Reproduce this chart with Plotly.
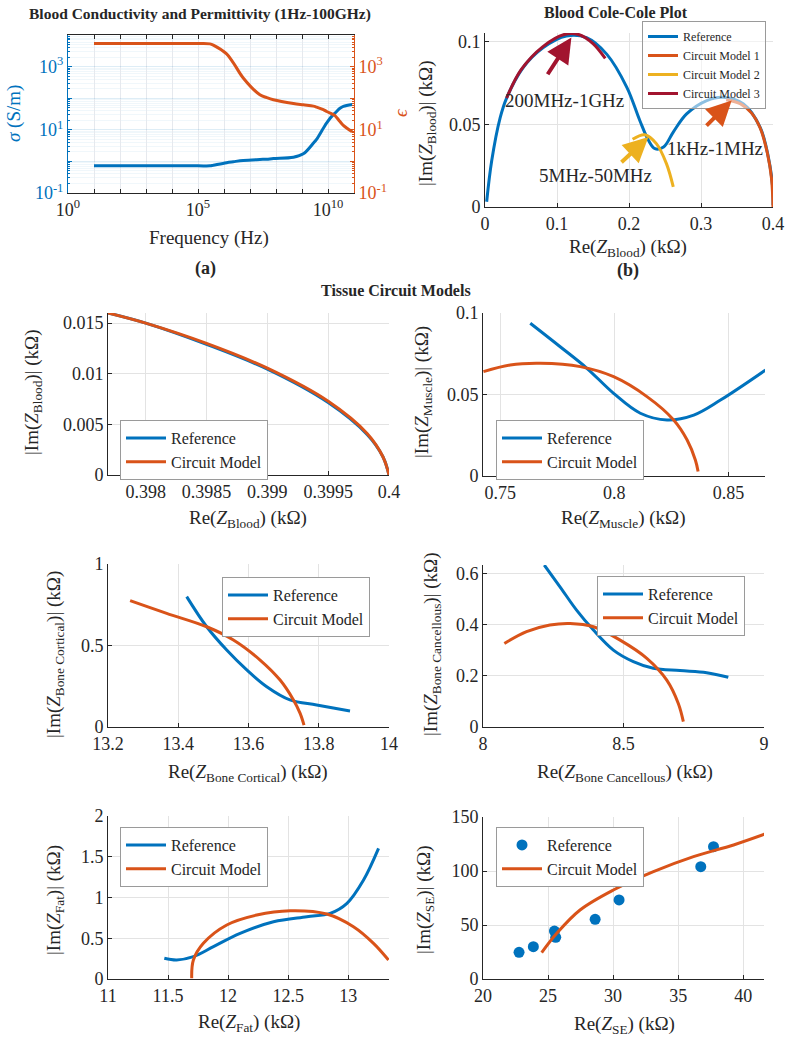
import numpy as np
import plotly.graph_objects as go

W, H = 787, 1043
FONT = "Liberation Serif, Times New Roman, serif"
BLUE = "#0072BD"
ORANGE = "#D95319"
YELLOW = "#EDB120"
DRED = "#A2142F"
TXT = "#262626"
GRID = "#e3e3e3"

# ---------------- data ----------------
# (a) blood conductivity / permittivity
freq_log = [1, 3, 5, 5.46, 5.59, 6.1, 6.36, 6.74, 7.38, 7.64, 7.9, 8.67, 9.05, 9.44, 9.56, 9.82, 9.95, 10.2, 10.27, 10.46, 10.59, 10.93]
sigma_log = [-0.14, -0.14, -0.14, -0.14, -0.12, -0.04, -0.01, 0.03, 0.06, 0.07, 0.09, 0.13, 0.24, 0.58, 0.70, 1.05, 1.22, 1.48, 1.53, 1.68, 1.74, 1.80]
eps_log = [3.73, 3.73, 3.73, 3.72, 3.68, 3.40, 3.12, 2.64, 2.11, 2.02, 1.95, 1.83, 1.79, 1.75, 1.72, 1.64, 1.58, 1.48, 1.45, 1.26, 1.14, 0.94]

# (b) Cole-Cole
cc_ref_re = [0.0023, 0.0093, 0.021, 0.030, 0.053, 0.081, 0.113, 0.141, 0.169, 0.197, 0.215, 0.227, 0.236, 0.248, 0.2615, 0.280, 0.308, 0.331, 0.359, 0.382, 0.3935, 0.3995, 0.400]
cc_ref_im = [0.0032, 0.028, 0.054, 0.066, 0.0845, 0.0966, 0.1036, 0.1026, 0.0926, 0.0725, 0.0524, 0.0404, 0.0353, 0.0363, 0.0454, 0.0564, 0.0645, 0.0665, 0.0624, 0.0484, 0.0303, 0.0122, 0.001]
cm1_re = [0.335, 0.355, 0.370, 0.382, 0.392, 0.398, 0.400]
cm1_im = [0.0650, 0.0625, 0.0570, 0.0480, 0.0330, 0.0170, 0.0]
cm2_re = [0.205, 0.222, 0.238, 0.252, 0.2615]
cm2_im = [0.0410, 0.0438, 0.0384, 0.0263, 0.0122]
cm3_re = [0.030, 0.050, 0.080, 0.110, 0.130, 0.150, 0.167]
cm3_im = [0.066, 0.083, 0.097, 0.1045, 0.1045, 0.099, 0.090]

# (c) blood
bl_ref_re = [0.39769, 0.3980, 0.3985, 0.3990, 0.3995, 0.39982, 0.39995, 0.4000]
bl_ref_im = [0.0160, 0.0150, 0.0129, 0.01045, 0.00715, 0.0040, 0.0018, 0.0]
bl_cm_re = [0.39769, 0.3980, 0.3985, 0.3990, 0.3995, 0.39982, 0.39995, 0.4000]
bl_cm_im = [0.0160, 0.0150, 0.0130, 0.01055, 0.00728, 0.0041, 0.0018, 0.0]

# (d) muscle
mu_ref_re = [0.7632, 0.7763, 0.788, 0.7997, 0.8114, 0.8231, 0.8348, 0.8465, 0.8662]
mu_ref_im = [0.0937, 0.0793, 0.0661, 0.0507, 0.0385, 0.0344, 0.0374, 0.0466, 0.0650]
mu_cm_re = [0.7427, 0.7544, 0.7675, 0.7851, 0.7997, 0.8143, 0.826, 0.8319, 0.8355, 0.8367]
mu_cm_im = [0.0640, 0.0681, 0.0691, 0.0671, 0.0609, 0.0487, 0.0344, 0.0221, 0.0098, 0.0027]

# (e) bone cortical
bc_ref_re = [13.424, 13.481, 13.538, 13.595, 13.652, 13.718, 13.794, 13.889]
bc_ref_im = [0.80, 0.615, 0.472, 0.35, 0.247, 0.166, 0.135, 0.098]
bc_cm_re = [13.263, 13.367, 13.481, 13.557, 13.633, 13.69, 13.728, 13.747, 13.758]
bc_cm_im = [0.775, 0.697, 0.615, 0.534, 0.411, 0.288, 0.166, 0.084, 0.012]

# (f) bone cancellous
bn_ref_re = [8.218, 8.274, 8.333, 8.393, 8.464, 8.535, 8.606, 8.701, 8.796, 8.873]
bn_ref_im = [0.632, 0.547, 0.456, 0.378, 0.300, 0.255, 0.229, 0.220, 0.212, 0.194]
bn_cm_re = [8.076, 8.155, 8.238, 8.31, 8.393, 8.488, 8.583, 8.654, 8.695, 8.713]
bn_cm_im = [0.326, 0.372, 0.398, 0.404, 0.391, 0.339, 0.268, 0.183, 0.092, 0.021]

# (g) fat
fa_ref_re = [11.469, 11.572, 11.711, 11.878, 12.1, 12.378, 12.656, 12.85, 12.99, 13.128, 13.253]
fa_ref_im = [0.254, 0.233, 0.274, 0.397, 0.56, 0.703, 0.765, 0.806, 0.929, 1.215, 1.603]
fa_cm_re = [11.697, 11.711, 11.794, 11.989, 12.239, 12.517, 12.822, 13.044, 13.211, 13.336]
fa_cm_im = [0.008, 0.233, 0.438, 0.663, 0.785, 0.838, 0.798, 0.642, 0.438, 0.233]

# (h) SE
se_ref_re = [22.77, 23.87, 25.49, 25.59, 28.62, 30.46, 36.74, 37.72]
se_ref_im = [24.7, 29.9, 44.4, 38.6, 55.3, 73.2, 104.0, 122.5]
se_cm_re = [24.51, 25.67, 27.46, 30.02, 33.1, 36.18, 39.26, 41.64]
se_cm_im = [24.4, 42.3, 63.9, 82.4, 99.4, 113.3, 124.1, 134.0]

# tick labels
a_xtick_labels = {0: "10<sup>0</sup>", 5: "10<sup>5</sup>", 10: "10<sup>10</sup>"}
a_ytick_labels = {-1: "10<sup>-1</sup>", 1: "10<sup>1</sup>", 3: "10<sup>3</sup>"}

# ---------------- layout helpers ----------------
def dom_x(x0, x1):
    return [x0 / W, x1 / W]

def dom_y(y0, y1):
    return [1 - y1 / H, 1 - y0 / H]

def lin_axis(domain, rng, tickvals, ticktext=None, anchor=None):
    d = dict(domain=domain, range=rng, tickmode="array", tickvals=tickvals,
             showgrid=True, gridcolor=GRID, gridwidth=1, zeroline=False,
             showline=True, linecolor=TXT, linewidth=1, ticks="inside", ticklen=4,
             tickcolor=TXT, tickfont=dict(family=FONT, size=18, color=TXT),
             anchor=anchor, automargin=False, fixedrange=True)
    if ticktext is not None:
        d["ticktext"] = ticktext
    return d

fig = go.Figure()

# ---------------- panel (a) ----------------
fig.add_trace(go.Scatter(x=[10 ** v for v in freq_log], y=[10 ** v for v in sigma_log],
                         mode="lines", line=dict(color=BLUE, width=3, shape="spline"),
                         xaxis="x", yaxis="y", showlegend=False))
fig.add_trace(go.Scatter(x=[10 ** v for v in freq_log], y=[10 ** v for v in eps_log],
                         mode="lines", line=dict(color=ORANGE, width=3, shape="spline"),
                         xaxis="x", yaxis="y9", showlegend=False))

dec_x = list(range(0, 12))
dec_y = list(range(-1, 5))
minor_y = [k * 10.0 ** d for d in range(-1, 4) for k in range(2, 10)]
xa = dict(domain=dom_x(68, 354), type="log", range=[0, 11], tickmode="array",
          tickvals=[10.0 ** d for d in dec_x],
          ticktext=[a_xtick_labels.get(d, "") for d in dec_x],
          showgrid=True, gridcolor="#e6e9ee", zeroline=False, showline=True,
          linecolor=TXT, ticks="inside", ticklen=4, tickcolor=TXT, mirror="ticks",
          tickfont=dict(family=FONT, size=18, color=TXT), anchor="y", automargin=False)
ya = dict(domain=dom_y(35, 193), type="log", range=[-1, 4], tickmode="array",
          tickvals=[10.0 ** d for d in dec_y],
          ticktext=[a_ytick_labels.get(d, "") for d in dec_y],
          showgrid=True, gridcolor="rgba(0,114,189,0.13)", zeroline=False, showline=True,
          linecolor=BLUE, ticks="inside", ticklen=4, tickcolor=BLUE,
          tickfont=dict(family=FONT, size=18, color=BLUE), anchor="x", automargin=False,
          minor=dict(tickmode="array", tickvals=minor_y, showgrid=True,
                     gridcolor="rgba(0,114,189,0.06)", ticks="inside", ticklen=2, tickcolor=BLUE))
ya9 = dict(domain=dom_y(35, 193), type="log", range=[-1, 4], tickmode="array",
           tickvals=[10.0 ** d for d in dec_y],
           ticktext=[a_ytick_labels.get(d, "") for d in dec_y],
           showgrid=False, zeroline=False, showline=True, side="right", overlaying="y",
           linecolor=ORANGE, ticks="inside", ticklen=4, tickcolor=ORANGE,
           tickfont=dict(family=FONT, size=18, color=ORANGE), anchor="x", automargin=False,
           minor=dict(tickmode="array", tickvals=minor_y, ticks="inside", ticklen=2, tickcolor=ORANGE))

# ---------------- panel (b) ----------------
fig.add_trace(go.Scatter(x=cc_ref_re, y=cc_ref_im, mode="lines", name="Reference",
                         line=dict(color=BLUE, width=3, shape="spline"), xaxis="x2", yaxis="y2", legend="legend"))
fig.add_trace(go.Scatter(x=cm1_re, y=cm1_im, mode="lines", name="Circuit Model 1",
                         line=dict(color=ORANGE, width=3, shape="spline"), xaxis="x2", yaxis="y2", legend="legend"))
fig.add_trace(go.Scatter(x=cm2_re, y=cm2_im, mode="lines", name="Circuit Model 2",
                         line=dict(color=YELLOW, width=3, shape="spline"), xaxis="x2", yaxis="y2", legend="legend"))
fig.add_trace(go.Scatter(x=cm3_re, y=cm3_im, mode="lines", name="Circuit Model 3",
                         line=dict(color=DRED, width=3, shape="spline"), xaxis="x2", yaxis="y2", legend="legend"))

# ---------------- lower panels ----------------
panels = [
    ("3", bl_ref_re, bl_ref_im, bl_cm_re, bl_cm_im, "legend2", False),
    ("4", mu_ref_re, mu_ref_im, mu_cm_re, mu_cm_im, "legend3", False),
    ("5", bc_ref_re, bc_ref_im, bc_cm_re, bc_cm_im, "legend4", False),
    ("6", bn_ref_re, bn_ref_im, bn_cm_re, bn_cm_im, "legend5", False),
    ("7", fa_ref_re, fa_ref_im, fa_cm_re, fa_cm_im, "legend6", False),
    ("8", se_ref_re, se_ref_im, se_cm_re, se_cm_im, "legend7", True),
]
for k, rx, ry, cx, cy, lg, mk in panels:
    if mk:
        fig.add_trace(go.Scatter(x=rx, y=ry, mode="markers", name="Reference",
                                 marker=dict(color=BLUE, size=11), xaxis="x" + k, yaxis="y" + k, legend=lg))
    else:
        fig.add_trace(go.Scatter(x=rx, y=ry, mode="lines", name="Reference",
                                 line=dict(color=BLUE, width=3, shape="spline"), xaxis="x" + k, yaxis="y" + k, legend=lg))
    fig.add_trace(go.Scatter(x=cx, y=cy, mode="lines", name="Circuit Model",
                             line=dict(color=ORANGE, width=3, shape="spline"), xaxis="x" + k, yaxis="y" + k, legend=lg))

layout_axes = dict(
    xaxis=xa, yaxis=ya, yaxis9=ya9,
    xaxis2=lin_axis(dom_x(485, 773), [0, 0.4], [0, 0.1, 0.2, 0.3, 0.4], ["0", "0.1", "0.2", "0.3", "0.4"], "y2"),
    yaxis2=lin_axis(dom_y(33, 207), [0, 0.1054], [0, 0.05, 0.1], ["0", "0.05", "0.1"], "x2"),
    xaxis3=lin_axis(dom_x(108, 389), [0.39769, 0.4], [0.398, 0.3985, 0.399, 0.3995, 0.4],
                    ["0.398", "0.3985", "0.399", "0.3995", "0.4"], "y3"),
    yaxis3=lin_axis(dom_y(313, 475), [0, 0.016], [0, 0.005, 0.01, 0.015], ["0", "0.005", "0.01", "0.015"], "x3"),
    xaxis4=lin_axis(dom_x(483, 765), [0.7425, 0.866], [0.75, 0.8, 0.85], ["0.75", "0.8", "0.85"], "y4"),
    yaxis4=lin_axis(dom_y(313, 476), [0, 0.1], [0, 0.05, 0.1], ["0", "0.05", "0.1"], "x4"),
    xaxis5=lin_axis(dom_x(108, 389), [13.2, 14], [13.2, 13.4, 13.6, 13.8, 14], ["13.2", "13.4", "13.6", "13.8", "14"], "y5"),
    yaxis5=lin_axis(dom_y(564, 727), [0, 1], [0, 0.5, 1], ["0", "0.5", "1"], "x5"),
    xaxis6=lin_axis(dom_x(483, 764), [8, 9], [8, 8.5, 9], ["8", "8.5", "9"], "y6"),
    yaxis6=lin_axis(dom_y(565, 727), [0, 0.632], [0, 0.2, 0.4, 0.6], ["0", "0.2", "0.4", "0.6"], "x6"),
    xaxis7=lin_axis(dom_x(108, 389), [11, 13.34], [11, 11.5, 12, 12.5, 13], ["11", "11.5", "12", "12.5", "13"], "y7"),
    yaxis7=lin_axis(dom_y(816, 979), [0, 2], [0, 0.5, 1, 1.5, 2], ["0", "0.5", "1", "1.5", "2"], "x7"),
    xaxis8=lin_axis(dom_x(483, 764), [20, 41.6], [20, 25, 30, 35, 40], ["20", "25", "30", "35", "40"], "y8"),
    yaxis8=lin_axis(dom_y(817, 979), [0, 150], [0, 50, 100, 150], ["0", "50", "100", "150"], "x8"),
)

def legend_at(xpx, ypx, size, iw, bg="white"):
    return dict(x=xpx / W, y=1 - ypx / H, xanchor="left", yanchor="top",
                bgcolor=bg, bordercolor="#9a9a9a", borderwidth=1,
                font=dict(family=FONT, size=size, color=TXT), itemwidth=iw,
                tracegroupgap=0, itemclick=False)

legends = dict(
    legend=legend_at(642, 21, 12, 30, "rgba(255,255,255,0.55)"),
    legend2=legend_at(120, 420, 16, 40),
    legend3=legend_at(496, 420, 16, 40),
    legend4=legend_at(222, 577, 16, 40),
    legend5=legend_at(597, 576, 16, 40),
    legend6=legend_at(120, 827, 16, 40),
    legend7=legend_at(496, 827, 16, 40),
)

ann = []

def text(x, y, s, size=18, bold=False, color=TXT, angle=0):
    if bold:
        s = "<b>" + s + "</b>"
    ann.append(dict(x=x / W, y=1 - y / H, xref="paper", yref="paper", text=s, showarrow=False,
                    xanchor="center", yanchor="middle", textangle=angle,
                    font=dict(family=FONT, size=size, color=color)))

# titles
text(200, 14, "Blood Conductivity and Permittivity (1Hz-100GHz)", 15.5, True)
text(616, 13, "Blood Cole-Cole Plot", 16, True)
text(396, 290, "Tissue Circuit Models", 16, True)
text(205, 268, "(a)", 18, True)
text(628, 270, "(b)", 18, True)

# axis titles
text(209, 238, "Frequency (Hz)", 19)
text(14, 114, "<i>σ</i> (S/m)", 19, color=BLUE, angle=-90)
text(401, 112, "<i>ϵ</i>", 19, color=ORANGE, angle=-90)

def zlab(sub):
    return "Re(<i>Z</i><sub>" + sub + "</sub>) (kΩ)"

def imlab(sub):
    return "|Im(<i>Z</i><sub>" + sub + "</sub>)| (kΩ)"

text(628, 248, zlab("Blood"), 19)
text(427, 123, imlab("Blood"), 19, angle=-90)
text(248, 519, zlab("Blood"), 19)
text(33, 392, imlab("Blood"), 19, angle=-90)
text(623, 519, zlab("Muscle"), 19)
text(423, 392, imlab("Muscle"), 19, angle=-90)
text(248, 773, zlab("Bone Cortical"), 19)
text(55, 655, imlab("Bone Cortical"), 19, angle=-90)
text(625, 773, zlab("Bone Cancellous"), 19)
text(432, 645, imlab("Bone Cancellous"), 19, angle=-90)
text(249, 1023, zlab("Fat"), 19)
text(55, 900, imlab("Fat"), 19, angle=-90)
text(624, 1025, zlab("SE"), 19)
text(425, 900, imlab("SE"), 19, angle=-90)

# (b) arrows and labels
arrows = [
    (0.0857, 0.0795, 0.120, 0.1026, DRED),
    (0.1875, 0.0263, 0.227, 0.0424, YELLOW),
    (0.3056, 0.0484, 0.3426, 0.0645, ORANGE),
]
for tx, ty, hx, hy, c in arrows:
    ann.append(dict(x=hx, y=hy, ax=tx, ay=ty, xref="x2", yref="y2", axref="x2", ayref="y2",
                    text="", showarrow=True, arrowhead=2, arrowsize=1.25, arrowwidth=4, arrowcolor=c))
ann.append(dict(x=0.111, y=0.0645, xref="x2", yref="y2", text="200MHz-1GHz", showarrow=False,
                font=dict(family=FONT, size=19, color=TXT)))
ann.append(dict(x=0.153, y=0.0193, xref="x2", yref="y2", text="5MHz-50MHz", showarrow=False,
                font=dict(family=FONT, size=19, color=TXT)))
ann.append(dict(x=0.319, y=0.0353, xref="x2", yref="y2", text="1kHz-1MHz", showarrow=False,
                font=dict(family=FONT, size=19, color=TXT)))

fig.update_layout(width=W, height=H, margin=dict(l=0, r=0, t=0, b=0),
                  paper_bgcolor="white", plot_bgcolor="white",
                  font=dict(family=FONT, color=TXT), annotations=ann,
                  **layout_axes, **legends)

fig.write_html("out.html", config={"displayModeBar": False, "staticPlot": True},
               post_script="document.body.style.margin='0px';document.body.style.overflow='hidden';")
